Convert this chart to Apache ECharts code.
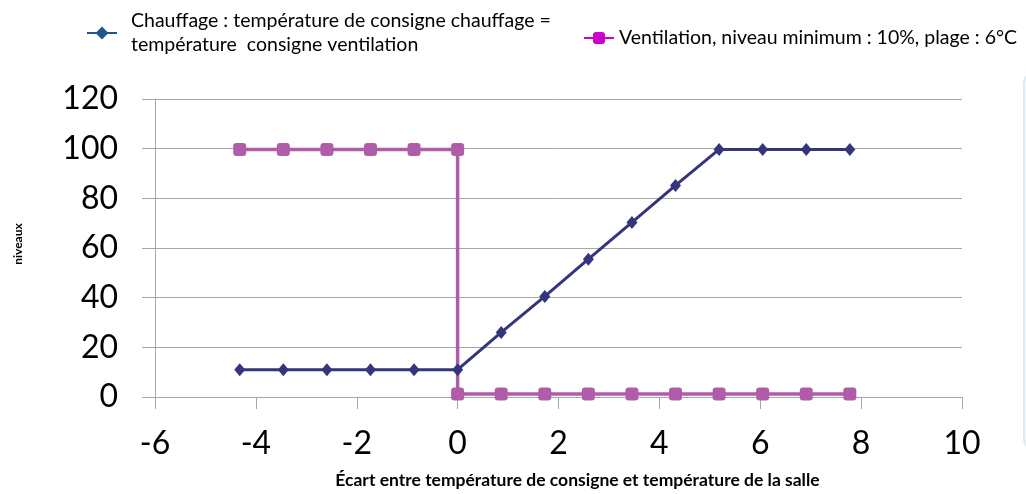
<!DOCTYPE html>
<html>
<head>
<meta charset="utf-8">
<script src="https://cdn.jsdelivr.net/npm/echarts@6/dist/echarts.min.js"></script>
<style>html,body{margin:0;padding:0;background:#fff}#c{width:1026px;height:494px}</style>
</head>
<body>
<div id="c"></div>
<script>
var chauffageX = [-4.32, -3.456, -2.592, -1.728, -0.864, 0, 0.864, 1.728, 2.592, 3.456, 4.32, 5.184, 6.048, 6.912, 7.776];
var chauffageY = [11, 11, 11, 11, 11, 11, 26, 40.5, 55.5, 70.3, 85.2, 99.7, 99.7, 99.7, 99.7];
var ventX = [-4.32, -3.456, -2.592, -1.728, -0.864, 0, 0, 0.864, 1.728, 2.592, 3.456, 4.32, 5.184, 6.048, 6.912, 7.776];
var ventY = [99.7, 99.7, 99.7, 99.7, 99.7, 99.7, 1.2, 1.2, 1.2, 1.2, 1.2, 1.2, 1.2, 1.2, 1.2, 1.2];
var xTicks = {min: -6, max: 10, interval: 2};
var yTicks = {min: 0, max: 120, interval: 20};
var name1 = 'Chauffage : température de consigne chauffage =\ntempérature  consigne ventilation';
var name2 = 'Ventilation, niveau minimum : 10%, plage : 6°C';

function pairs(xs, ys) { return xs.map(function (x, i) { return [x, ys[i]]; }); }

var font = 'Lato, "Open Sans", sans-serif';
var chart = echarts.init(document.getElementById('c'), null, {renderer: 'canvas'});
chart.setOption({
  animation: false,
  textStyle: {fontFamily: font},
  grid: {left: 155, right: 64, top: 99, bottom: 97},
  legend: [
    {left: 81, top: 4, itemWidth: 30, itemHeight: 16, itemGap: 10,
     textStyle: {fontSize: 19.5, color: '#000', fontFamily: font, lineHeight: 24, padding: [0, 0, 0, 9]},
     data: [{name: name1, itemStyle: {color: '#24548c'}, lineStyle: {color: '#24548c', width: 2}}]},
    {left: 578, top: 21, itemWidth: 30, itemHeight: 15, itemGap: 10,
     textStyle: {fontSize: 19.5, color: '#000', fontFamily: font, lineHeight: 24, padding: [0, 0, 0, 0]},
     data: [{name: name2, itemStyle: {color: '#cc00cc'}, lineStyle: {color: '#cc00cc', width: 2}}]}
  ],
  xAxis: {
    type: 'value', min: xTicks.min, max: xTicks.max, interval: xTicks.interval,
    name: 'Écart entre température de consigne et température de la salle',
    nameLocation: 'middle', nameGap: 74,
    nameTextStyle: {fontSize: 17.5, fontWeight: 'bold', color: '#000', padding: [0, 0, 0, 38]},
    axisLine: {show: true, onZero: false, lineStyle: {color: '#a6a6a6', width: 1}},
    axisTick: {show: true, length: 12, lineStyle: {color: '#a6a6a6'}},
    splitLine: {show: false},
    axisLabel: {fontSize: 32, color: '#000', margin: 31}
  },
  yAxis: {
    type: 'value', min: yTicks.min, max: yTicks.max, interval: yTicks.interval,
    name: 'niveaux', nameLocation: 'middle', nameGap: 131, nameRotate: 90,
    nameTextStyle: {fontSize: 12, fontWeight: 'bold', color: '#000', padding: [0, 0, 0, 8]},
    axisLine: {show: true, onZero: false, lineStyle: {color: '#a6a6a6', width: 1}},
    axisTick: {show: true, length: 13, lineStyle: {color: '#a6a6a6'}},
    splitLine: {show: true, lineStyle: {color: '#a6a6a6', width: 1}},
    axisLabel: {fontSize: 32, color: '#000', margin: 37}
  },
  series: [
    {name: name2, type: 'line', data: pairs(ventX, ventY),
     symbol: 'roundRect', symbolSize: 13,
     lineStyle: {color: '#b05ca9', width: 3.5}, itemStyle: {color: '#b05ca9'}, z: 2},
    {name: name1, type: 'line', data: pairs(chauffageX, chauffageY),
     symbol: 'diamond', symbolSize: [11, 13],
     lineStyle: {color: '#35357e', width: 3}, itemStyle: {color: '#35357e'}, z: 3}
  ],
  graphic: [
    {type: 'rect', left: 1023, top: 70, shape: {width: 30, height: 380, r: 12},
     style: {fill: '#f6fafd', stroke: '#d6ebf4', lineWidth: 2}}
  ]
});
</script>
</body>
</html>
